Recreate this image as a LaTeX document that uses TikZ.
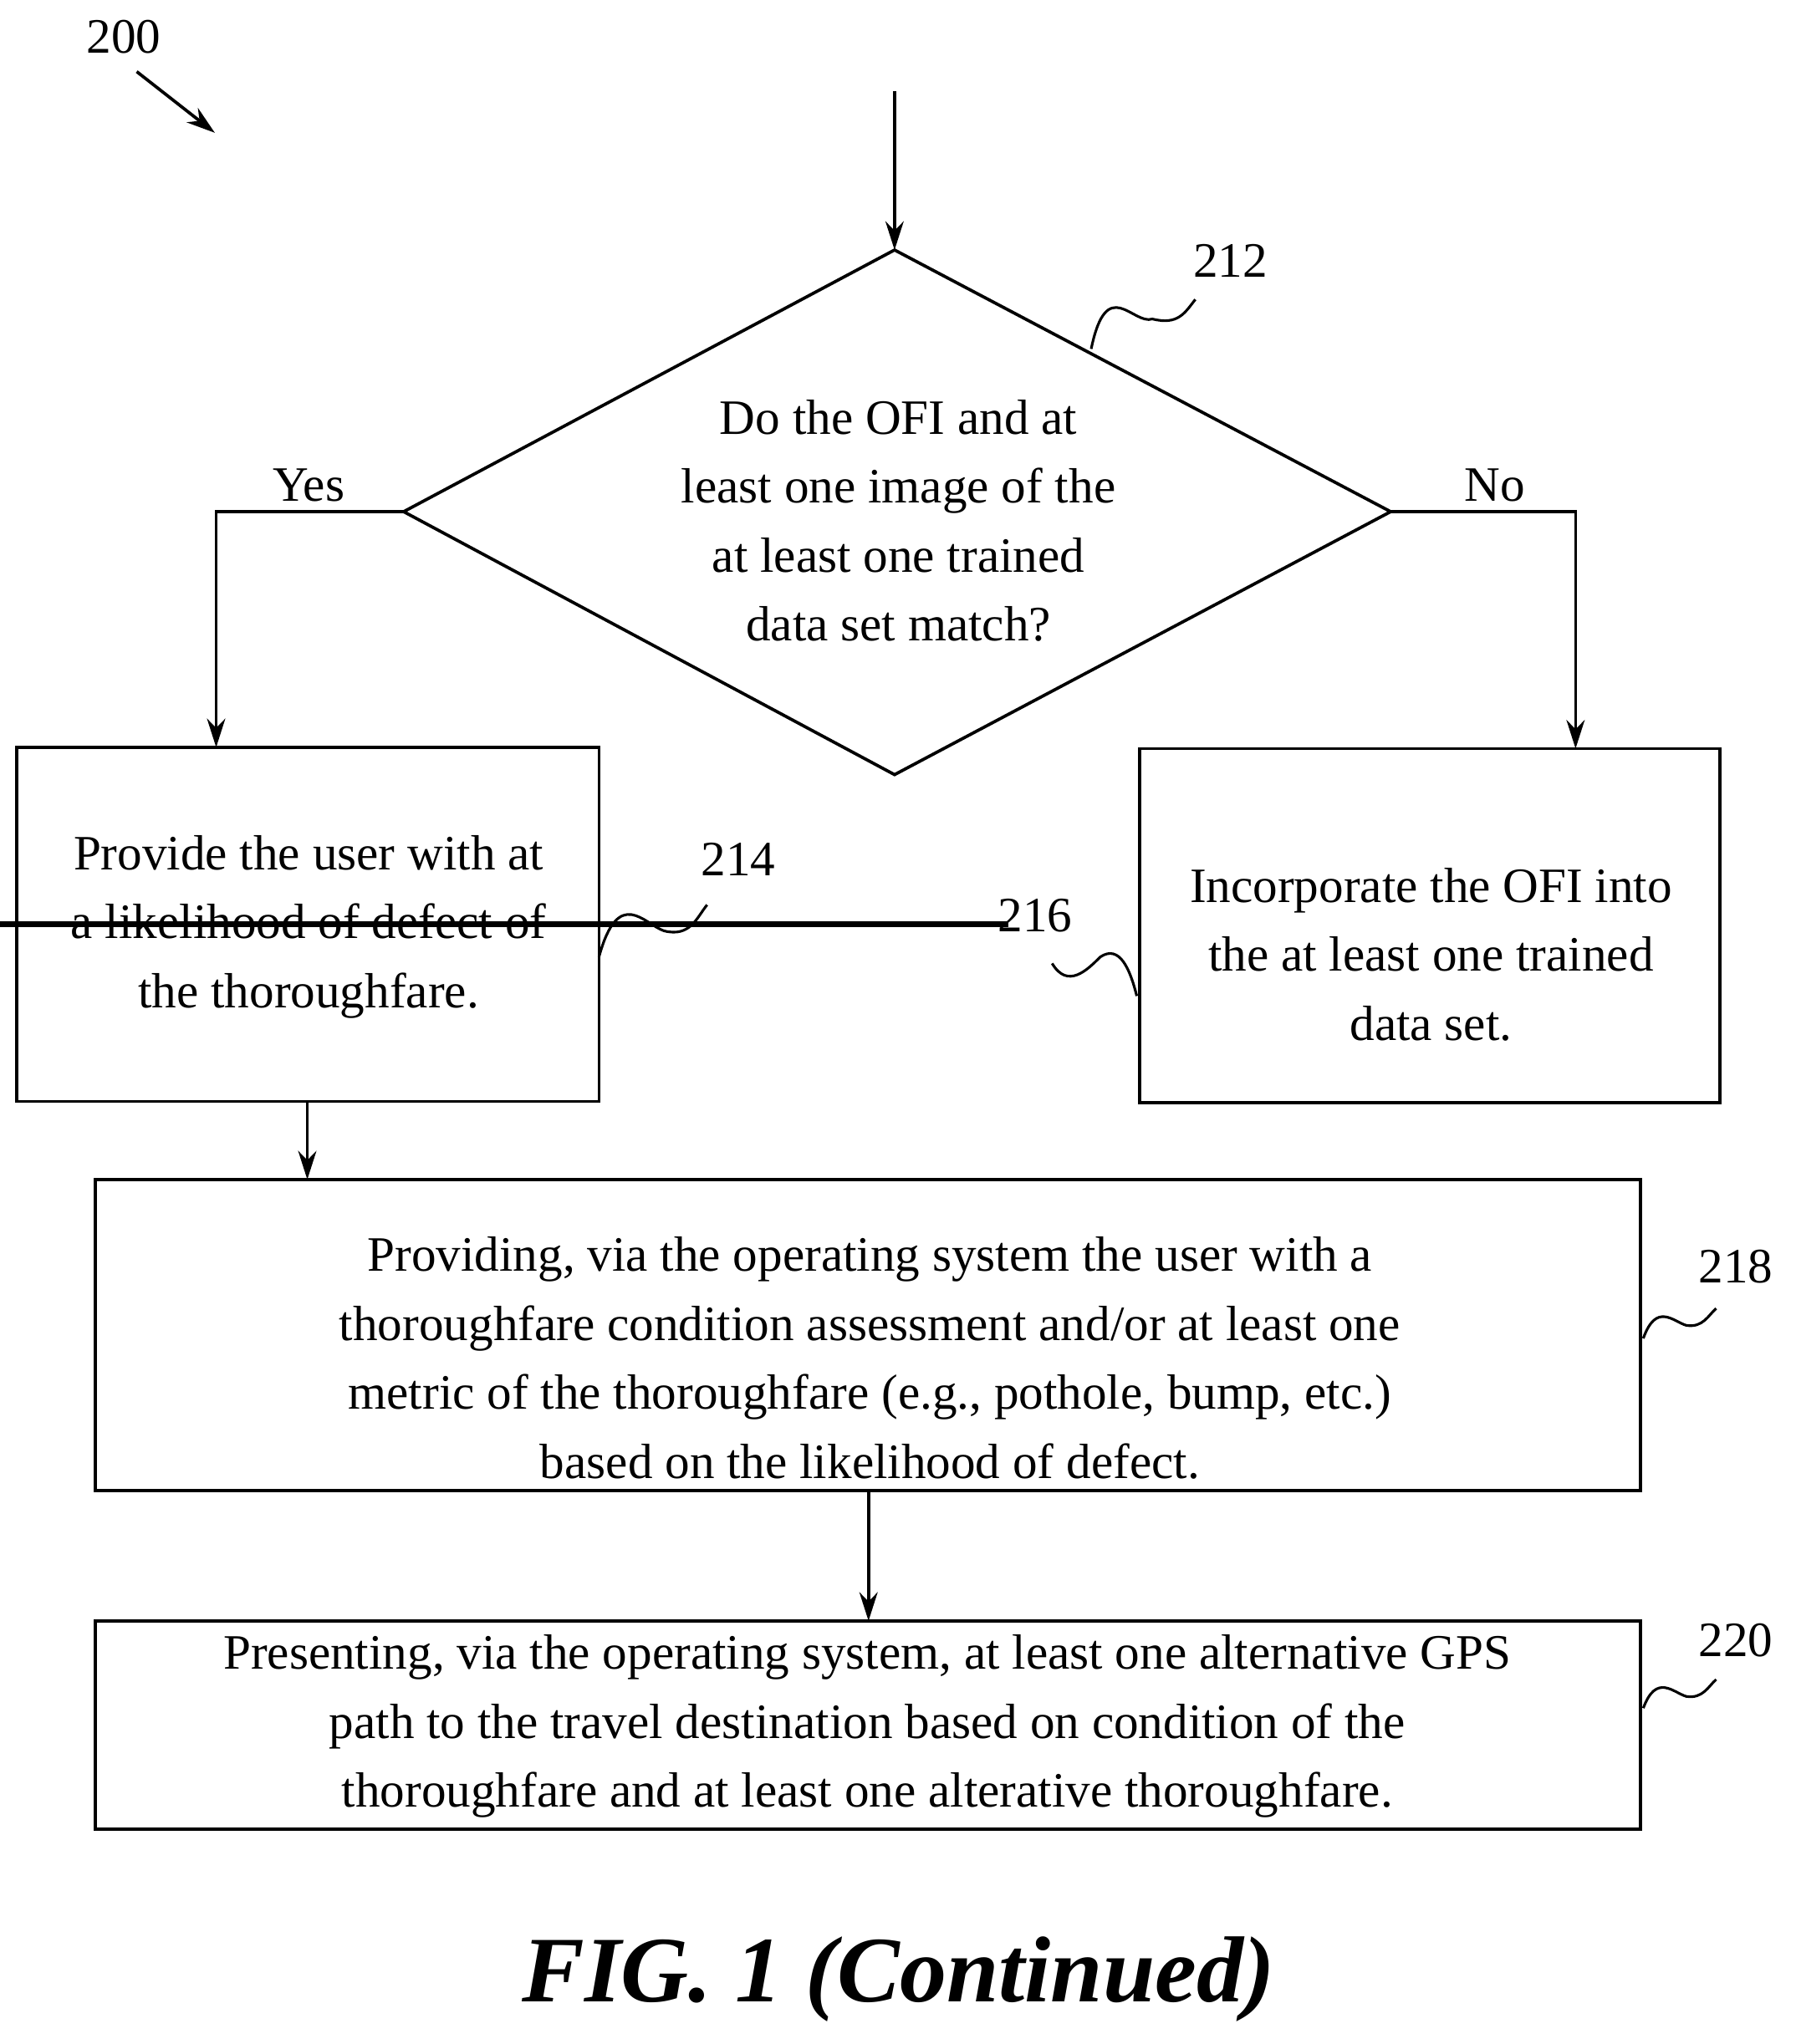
\documentclass[tikz,border=0pt]{standalone}
\usepackage{fontspec}
\setmainfont{Liberation Serif}
\usetikzlibrary{arrows.meta,shapes.geometric}
\begin{document}
\begin{tikzpicture}[x=0.5pt,y=-0.5pt,
  line width=1.2pt,
  arr/.style={-{Stealth[length=11pt,width=7pt]}},
  box/.style={draw,inner sep=0pt,align=center,font=\fontsize{19}{26.5}\selectfont},
  lbl/.style={font=\fontsize{19}{22}\selectfont},
  sq/.style={line width=1pt}]
\useasboundingbox (0,0) rectangle (1379,1570);
\node[lbl] (l200) at (95,28) {200};
\coordinate (a1) at (105,55); \coordinate (a2) at (165,102);
\draw[arr] (a1) -- (a2);
\coordinate (top) at (687,70);
\coordinate (dT) at (687,192); \coordinate (dL) at (310,393);
\coordinate (dR) at (1068,393); \coordinate (dB) at (687,595);
\draw (dT) -- (dR) -- (dB) -- (dL) -- cycle;
\node[box,draw=none] (q) at (690,400) {Do the OFI and at\\least one image of the\\at least one trained\\data set match?};
\draw[arr] (top) -- (dT);
\node[box,minimum width=447\pgflinewidth,text width=420pt] (b214) at (236.5,710) {};
\path (13,574) coordinate (b214a) (460,846) coordinate (b214b);
\draw (b214a) rectangle (b214b);
\node[box,draw=none] (t214) at (237,712) {Provide the user with at\\a likelihood of defect of\\the thoroughfare.};
\path (875,575) coordinate (b216a) (1321,847) coordinate (b216b);
\draw (b216a) rectangle (b216b);
\node[box,draw=none] (t216) at (1099,733) {Incorporate the OFI into\\the at least one trained\\data set.};
\path (73,906) coordinate (b218a) (1260,1145) coordinate (b218b);
\draw (b218a) rectangle (b218b);
\node[box,draw=none] (t218) at (668,1043) {Providing, via the operating system the user with a\\thoroughfare condition assessment and/or at least one\\metric of the thoroughfare (e.g., pothole, bump, etc.)\\based on the likelihood of defect.};
\path (73,1245) coordinate (b220a) (1260,1405) coordinate (b220b);
\draw (b220a) rectangle (b220b);
\node[box,draw=none] (t220) at (666,1326) {Presenting, via the operating system, at least one alternative GPS\\path to the travel destination based on condition of the\\thoroughfare and at least one alterative thoroughfare.};
\coordinate (y1) at (166,393); \coordinate (y2) at (166,574);
\draw[arr] (dL) -- (y1) -- (y2);
\node[lbl] (yes) at (237,373) {Yes};
\coordinate (n1) at (1210,393); \coordinate (n2) at (1210,575);
\draw[arr] (dR) -- (n1) -- (n2);
\node[lbl] (no) at (1148,373) {No};
\coordinate (c1) at (236,846); \coordinate (c2) at (236,906);
\draw[arr] (c1) -- (c2);
\coordinate (c3) at (667,1145); \coordinate (c4) at (667,1245);
\draw[arr] (c3) -- (c4);
\node[lbl] (l212) at (945,200) {212};
\node[lbl] (l214) at (567,660) {214};
\node[lbl] (l216) at (795,703) {216};
\node[lbl] (l218) at (1333,973) {218};
\node[lbl] (l220) at (1333,1260) {220};
\coordinate (s1a) at (838,268); \coordinate (s1b) at (918,230);
\draw[sq] (s1a) .. controls (850,210) and (870,250) .. (885,245) .. controls (905,250) and (910,240) .. (s1b);
\coordinate (s2a) at (460,735); \coordinate (s2b) at (543,695);
\draw[sq] (s2a) .. controls (475,680) and (495,710) .. (510,715) .. controls (530,720) and (535,705) .. (s2b);
\coordinate (s3a) at (808,740); \coordinate (s3b) at (873,765);
\draw[sq] (s3a) .. controls (820,760) and (835,745) .. (845,735) .. controls (860,725) and (868,745) .. (s3b);
\coordinate (s4a) at (1262,1028); \coordinate (s4b) at (1318,1005);
\draw[sq] (s4a) .. controls (1272,1000) and (1285,1015) .. (1295,1018) .. controls (1308,1020) and (1312,1010) .. (s4b);
\coordinate (s5a) at (1262,1312); \coordinate (s5b) at (1318,1290);
\draw[sq] (s5a) .. controls (1272,1285) and (1285,1300) .. (1295,1303) .. controls (1308,1305) and (1312,1295) .. (s5b);
\node[font=\fontsize{36}{40}\selectfont\bfseries\itshape] (fig) at (690,1520) {FIG. 1 (Continued)};
\end{tikzpicture}
\end{document}
